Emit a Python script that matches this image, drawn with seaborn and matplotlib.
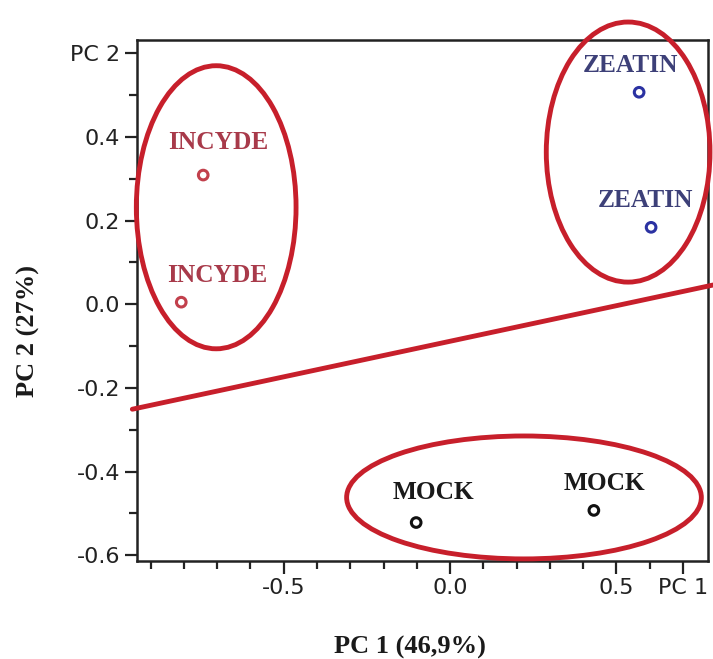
import numpy as np
import pandas as pd
import matplotlib
matplotlib.use("Agg")
import matplotlib.pyplot as plt
from matplotlib.patches import Ellipse
from matplotlib.ticker import FixedLocator
import seaborn as sns

# ---- data ----
groups = ["INCYDE", "INCYDE", "ZEATIN", "ZEATIN", "MOCK", "MOCK"]
pc1 = [-0.742, -0.808, 0.568, 0.604, -0.102, 0.432]
pc2 = [0.309, 0.005, 0.507, 0.184, -0.522, -0.493]

# group ellipses (centre x, centre y, width, height) in PC units
ell_groups = ["INCYDE", "ZEATIN", "MOCK"]
ell_cx = [-0.703, 0.535, 0.222]
ell_cy = [0.232, 0.364, -0.462]
ell_w = [0.480, 0.492, 1.066]
ell_h = [0.677, 0.622, 0.294]

# separating line
line_x = [-0.955, 0.79]
line_y = [-0.251, 0.046]

x_major = [-0.5, 0.0, 0.5, 0.7]
x_major_labels = ["-0.5", "0.0", "0.5", "PC 1"]
x_minor = [-0.9, -0.8, -0.7, -0.6, -0.4, -0.3, -0.2, -0.1, 0.1, 0.2, 0.3, 0.4, 0.6]
y_major = [-0.6, -0.4, -0.2, 0.0, 0.2, 0.4, 0.6]
y_major_labels = ["-0.6", "-0.4", "-0.2", "0.0", "0.2", "0.4", "PC 2"]
y_minor = [-0.5, -0.3, -0.1, 0.1, 0.3, 0.5]

xlabel = "PC 1 (46,9%)"
ylabel = "PC 2 (27%)"

# ---- styles ----
marker_colors = {"INCYDE": "#c2404c", "ZEATIN": "#2b32a2", "MOCK": "#111111"}
text_colors = {"INCYDE": "#a83a4a", "ZEATIN": "#3d4078", "MOCK": "#1a1a1a"}
label_offsets_px = [(15, 33), (36, 27), (-9, 27), (-6, 27), (17, 30), (11, 27)]
RED = "#c71f2b"

sns.set_style("ticks")
plt.rcParams["font.family"] = ["DejaVu Sans"]

fig = plt.figure(figsize=(7.13, 6.59), dpi=100)
ax = fig.add_axes([137 / 713, 1 - 561 / 659, 571 / 713, 521 / 659])

df = pd.DataFrame({"PC1": pc1, "PC2": pc2, "group": groups})
sns.scatterplot(data=df, x="PC1", y="PC2", hue="group", palette=marker_colors,
                s=48, legend=False, ax=ax, zorder=5)
coll = ax.collections[0]
fcs = coll.get_facecolors()
coll.set_edgecolors(fcs)
coll.set_facecolors("none")
coll.set_linewidths(2.2)

# ellipses
for g, cx, cy, w, h in zip(ell_groups, ell_cx, ell_cy, ell_w, ell_h):
    e = Ellipse((cx, cy), w, h, fill=False, edgecolor=RED, linewidth=3.5,
                clip_on=False, zorder=4)
    ax.add_patch(e)

# line
sns.lineplot(x=line_x, y=line_y, color=RED, linewidth=3.5, ax=ax,
             sort=False, zorder=4)
for l in ax.lines:
    l.set_clip_on(False)

# labels
serif = ["Liberation Serif", "DejaVu Serif"]
for g, x, y, off in zip(groups, pc1, pc2, label_offsets_px):
    ax.annotate(g, (x, y), xytext=off, textcoords="offset pixels",
                ha="center", va="center", fontsize=18.3, fontweight="bold",
                family=serif, color=text_colors[g], zorder=6,
                annotation_clip=False)

ax.set_xlim(-0.941, 0.775)
ax.set_ylim(-0.614, 0.632)

ax.xaxis.set_major_locator(FixedLocator(x_major))
ax.set_xticklabels(x_major_labels)
ax.xaxis.set_minor_locator(FixedLocator(x_minor))
ax.yaxis.set_major_locator(FixedLocator(y_major))
ax.set_yticklabels(y_major_labels)
ax.yaxis.set_minor_locator(FixedLocator(y_minor))

ax.tick_params(which="major", length=9, width=1.6, color="#222222",
               labelsize=16, labelcolor="#222222", pad=3)
ax.tick_params(which="minor", length=6, width=1.6, color="#222222")
for s in ax.spines.values():
    s.set_linewidth(1.8)
    s.set_color("#222222")
    s.set_visible(True)

ax.set_xlabel("")
ax.set_ylabel("")
fig.text(410 / 713, 1 - 647 / 659, xlabel, ha="center", va="center",
         fontsize=19, fontweight="bold", family=serif, color="#1a1a1a")
fig.text(28 / 713, 1 - 331 / 659, ylabel, ha="center", va="center",
         rotation=90, fontsize=19, fontweight="bold", family=serif, color="#1a1a1a")

fig.savefig("out.png", dpi=100, facecolor="white")
